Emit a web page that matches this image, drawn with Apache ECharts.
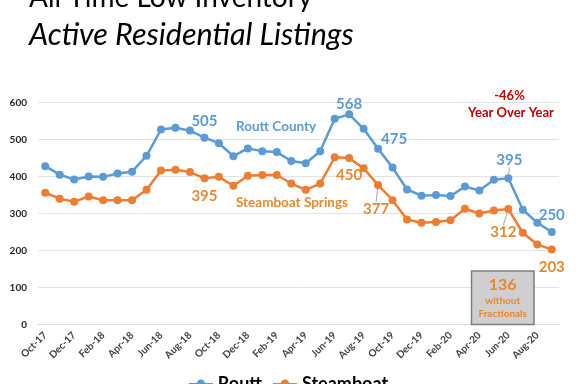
<!DOCTYPE html>
<html><head><meta charset="utf-8">
<script src="https://cdn.jsdelivr.net/npm/echarts@6/dist/echarts.min.js"></script>
<style>html,body{margin:0;padding:0;background:#fff}#c{width:576px;height:384px}</style>
</head><body><div id="c"></div>
<script>
const months = ['Oct-17','Nov-17','Dec-17','Jan-18','Feb-18','Mar-18','Apr-18','May-18','Jun-18','Jul-18','Aug-18','Sep-18',
  'Oct-18','Nov-18','Dec-18','Jan-19','Feb-19','Mar-19','Apr-19','May-19','Jun-19','Jul-19','Aug-19','Sep-19',
  'Oct-19','Nov-19','Dec-19','Jan-20','Feb-20','Mar-20','Apr-20','May-20','Jun-20','Jul-20','Aug-20','Sep-20'];
const routt = [428,405,392,400,399,408,413,456,527,532,524,505,490,455,476,468,466,442,436,468,556,568,529,475,424,365,348,350,347,373,362,391,395,310,275,250];
const steamboat = [356,340,332,346,336,336,336,364,416,418,412,395,399,375,402,404,404,381,364,381,452,450,422,377,336,284,275,277,282,313,300,308,312,248,216,203];
const yTicks = [0,100,200,300,400,500,600];
// labelled points: index -> [position, dx, dy, leader]
const routtLabels = {11:['top',0,0,false],21:['top',0,6,false],23:['top',16,7,false],32:['top',1,-2,true],35:['top',0,0,false]};
const steamLabels = {11:['bottom',0,1,false],21:['bottom',0,1,false],23:['bottom',-2,8,true],32:['bottom',-5,7,true],35:['bottom',0,1,false]};

const FONT = 'Lato, "Open Sans", sans-serif';
const BLUE = '#5B9BD5', ORANGE = '#ED7D31', ORANGE_T = '#E5892E';

function build(values, labels, color) {
  return values.map((v, i) => {
    const l = labels[i];
    if (!l) return v;
    return {
      value: v,
      label: {show: true, position: l[0], color: color,
        fontFamily: FONT, fontWeight: 'bold', fontSize: 15},
      labelLine: {show: l[3], lineStyle: {color: '#A6A6A6', width: 1}}
    };
  });
}
function layoutFor(labels) {
  return function (p) {
    const l = labels[p.dataIndex];
    return l ? {dx: l[1], dy: l[2]} : {};
  };
}

const chart = echarts.init(document.getElementById('c'));
chart.setOption({
  animation: false,
  grid: {left: 38, right: 17, top: 102.5, bottom: 59.5},
  xAxis: {
    type: 'category', data: months, boundaryGap: true,
    axisLine: {lineStyle: {color: '#D9D9D9'}}, axisTick: {show: false},
    axisLabel: {interval: 1, rotate: 45, margin: 9, color: '#404040', fontFamily: FONT, fontWeight: 'bold', fontSize: 10}
  },
  yAxis: {
    type: 'value', min: yTicks[0], max: yTicks[yTicks.length-1], interval: 100,
    axisLine: {show: false}, axisTick: {show: false},
    splitLine: {lineStyle: {color: '#E3E3E3'}},
    axisLabel: {margin: 11, color: '#262626', fontFamily: FONT, fontWeight: 'bold', fontSize: 10}
  },
  legend: {
    top: 370, left: 'center', itemGap: 10, itemWidth: 24, itemHeight: 11,
    textStyle: {fontFamily: FONT, fontWeight: 'bold', fontSize: 18, color: '#000'},
    data: ['Routt', 'Steamboat']
  },
  series: [
    {name: 'Routt', type: 'line', data: build(routt, routtLabels, BLUE), color: BLUE,
      symbol: 'circle', symbolSize: 8, lineStyle: {width: 2.5}, itemStyle: {color: BLUE},
      labelLayout: layoutFor(routtLabels)},
    {name: 'Steamboat', type: 'line', data: build(steamboat, steamLabels, ORANGE_T), color: ORANGE,
      symbol: 'circle', symbolSize: 8, lineStyle: {width: 2.5}, itemStyle: {color: ORANGE},
      labelLayout: layoutFor(steamLabels)}
  ],
  graphic: {elements: [
    {type: 'text', left: 29, top: -16, z: 100, style: {text: 'All Time Low Inventory', font: '28px ' + FONT, fill: '#000'}},
    {type: 'text', left: 29, top: 20, z: 100, style: {text: 'Active Residential Listings', font: 'italic 30.5px ' + FONT, fill: '#000'}},
    {type: 'text', left: 236, top: 120, z: 100, style: {text: 'Routt County', font: 'bold 13.5px ' + FONT, fill: BLUE}},
    {type: 'text', left: 236, top: 196, z: 100, style: {text: 'Steamboat Springs', font: 'bold 13.5px ' + FONT, fill: ORANGE_T}},
    {type: 'text', x: 509.5, y: 96, z: 100, style: {text: '-46%', font: 'bold 13px ' + FONT, fill: '#C00000', align: 'center', verticalAlign: 'middle'}},
    {type: 'text', x: 511, y: 112.5, z: 100, style: {text: 'Year Over Year', font: 'bold 13px ' + FONT, fill: '#C00000', align: 'center', verticalAlign: 'middle'}},
    {type: 'rect', z: 100, shape: {x: 471.5, y: 271, width: 62.5, height: 53.5}, style: {fill: '#D0CECE', stroke: '#7F7F7F', lineWidth: 1.5}},
    {type: 'text', z: 101, x: 502.7, y: 285, style: {text: '136', font: 'bold 16px ' + FONT, fill: ORANGE_T, align: 'center', verticalAlign: 'middle'}},
    {type: 'text', z: 101, x: 502.7, y: 301, style: {text: 'without', font: 'bold 10px ' + FONT, fill: ORANGE_T, align: 'center', verticalAlign: 'middle'}},
    {type: 'text', z: 101, x: 502.7, y: 313.5, style: {text: 'Fractionals', font: 'bold 10px ' + FONT, fill: ORANGE_T, align: 'center', verticalAlign: 'middle'}}
  ]}
});
</script></body></html>
